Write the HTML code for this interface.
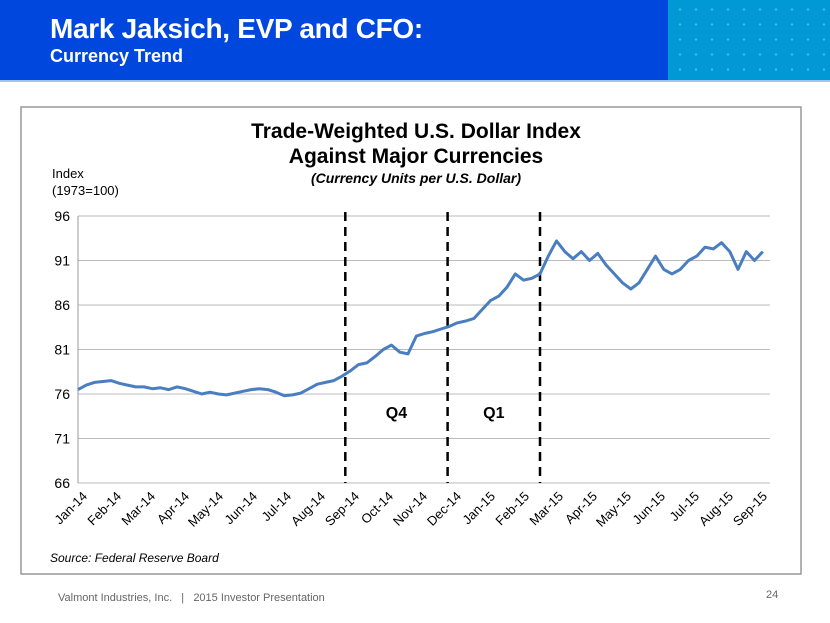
<!DOCTYPE html>
<html><head><meta charset="utf-8"><style>
body{margin:0;width:830px;height:623px;overflow:hidden;background:#fff;font-family:"Liberation Sans",sans-serif;position:relative}
.hdr{position:absolute;left:0;top:0;width:668px;height:80px;background:#0048DD}
.hdr2{position:absolute;left:668px;top:0;width:162px;height:80px;background:#0098D5;background-image:radial-gradient(circle,#4fb8e6 1px,transparent 1.4px);background-size:16px 15px;background-position:4px 2px}
.t1{position:absolute;left:50px;top:13px;color:#fff;font-weight:bold;font-size:28px;letter-spacing:-0.3px}
.t2{position:absolute;left:50px;top:46px;color:#fff;font-weight:bold;font-size:18px}
.line{position:absolute;left:0;top:80px;width:830px;height:2px;background:#9fc3ee}
.foot{position:absolute;left:58px;top:592px;font-size:11px;color:#666}
.pg{position:absolute;left:766px;top:589px;font-size:11px;color:#666}
</style></head><body>
<div class="hdr"></div>
<div class="hdr2"></div>
<div class="line"></div>
<div class="t1">Mark Jaksich, EVP and CFO:</div>
<div class="t2">Currency Trend</div>
<svg id="chart" width="830" height="623" style="position:absolute;left:0;top:0" font-family="Liberation Sans, sans-serif">
<rect x="21" y="107" width="780" height="467" fill="#fff" stroke="#999" stroke-width="1.5"/>
<text x="416" y="138" text-anchor="middle" font-size="21" font-weight="bold">Trade-Weighted U.S. Dollar Index</text>
<text x="416" y="163" text-anchor="middle" font-size="21" font-weight="bold">Against Major Currencies</text>
<text x="416" y="183" text-anchor="middle" font-size="14" font-weight="bold" font-style="italic">(Currency Units per U.S. Dollar)</text>
<text x="52" y="178" font-size="13">Index</text>
<text x="52" y="195" font-size="13">(1973=100)</text>
<text x="50" y="562" font-size="12" font-style="italic">Source:  Federal Reserve Board</text>
<g id="g"></g>
</svg>
<div class="foot">Valmont Industries, Inc.&nbsp;&nbsp;&nbsp;|&nbsp;&nbsp;&nbsp;2015 Investor Presentation</div>
<div class="pg">24</div>
<script>
const yTicks=[66,71,76,81,86,91,96];
const months=["Jan-14","Feb-14","Mar-14","Apr-14","May-14","Jun-14","Jul-14","Aug-14","Sep-14","Oct-14","Nov-14","Dec-14","Jan-15","Feb-15","Mar-15","Apr-15","May-15","Jun-15","Jul-15","Aug-15","Sep-15"];
const values=[76.5,77.0,77.3,77.4, 77.5,77.2,77.0,76.8, 76.8,76.6,76.7,76.5, 76.8,76.6,76.3,76.0, 76.2,76.0,75.9,76.1, 76.3,76.5,76.6,76.5, 76.2,75.8,75.9,76.1, 76.6,77.1,77.3,77.5, 78.0,78.6,79.3,79.5, 80.2,81.0,81.5,80.7, 80.5,82.5,82.8,83.0, 83.3,83.6,84.0,84.2, 84.5,85.5,86.5,87.0, 88.0,89.5,88.8,89.0, 89.5,91.5,93.2,92.0, 91.2,92.0,91.0,91.8, 90.5,89.5,88.5,87.8, 88.5,90.0,91.5,90.0, 89.5,90.0,91.0,91.5, 92.5,92.3,93.0,92.0, 90.0,92.0,91.0,92.0];
const dividers=[8.1,11.2,14];
const quarterLabels=["Q4","Q1"];
const ns="http://www.w3.org/2000/svg",g=document.getElementById('g');
const X0=78,X1=770,MW=33,PPM=4;
const y=v=>216+(96-v)*(483-216)/30;
const xm=m=>X0+m*MW;
function mk(t,a){const e=document.createElementNS(ns,t);for(const k in a)e.setAttribute(k,a[k]);g.appendChild(e);return e;}
yTicks.forEach(v=>{
 const l=mk('line',{x1:X0,x2:X1,y1:y(v),y2:y(v),stroke:'#bbb','stroke-width':1});
 
 
 const t=mk('text',{x:X0-8,y:y(v)+5,'text-anchor':'end','font-size':14});
 t.textContent=v;
 
 
});
const ax=mk('line',{x1:X0,x2:X0,y1:216,y2:483,stroke:'#999'});


months.forEach((m,i)=>{
 const lx=88+i*34,ly=497;
 const t=mk('text',{x:lx,y:ly,'text-anchor':'end','font-size':13,transform:`rotate(-45 ${lx} ${ly})`});
 t.textContent=m;
 
 
});
dividers.forEach((m,i)=>{
 const l=mk('line',{x1:xm(m),x2:xm(m),y1:212,y2:483,stroke:'#000','stroke-width':2.5,'stroke-dasharray':'9,6'});
 
 
});
quarterLabels.forEach((q,i)=>{
 const t=mk('text',{x:(xm(dividers[i])+xm(dividers[i+1]))/2,y:418,'text-anchor':'middle','font-size':16,'font-weight':'bold'});
 t.textContent=q;
 
 
});
const pts=values.map((v,i)=>(xm(i/PPM)).toFixed(1)+','+y(v).toFixed(1)).join(' ');
const pl=mk('polyline',{points:pts,fill:'none',stroke:'#4A7EC0','stroke-width':3,'stroke-linejoin':'round'});


</script>
</body></html>
